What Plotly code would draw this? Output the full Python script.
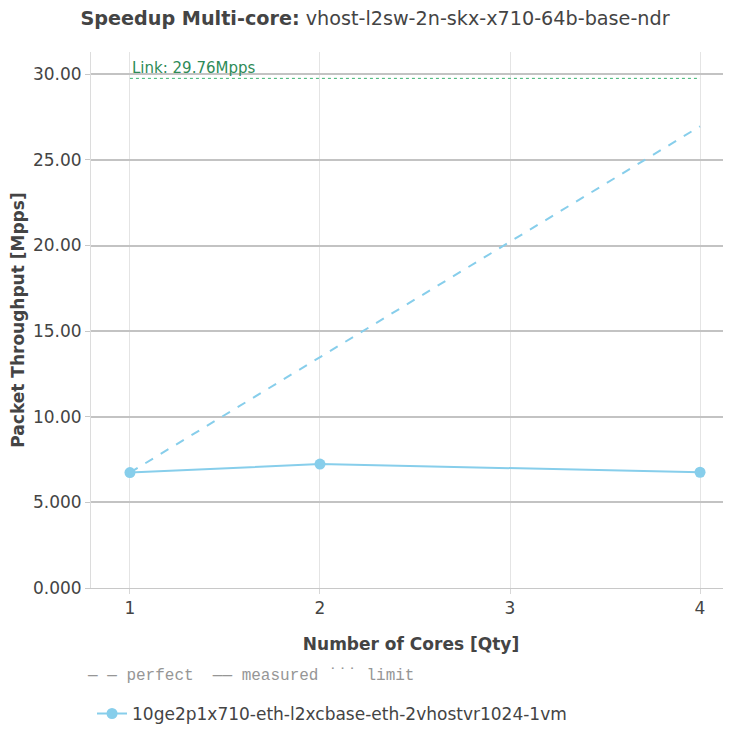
import plotly.graph_objects as go

cores = [1, 2, 4]
measured = [6.74, 7.24, 6.76]
perfect = [6.74, 13.48, 26.96]
link_x = [1, 4]
link_y = [29.76, 29.76]
series_name = "10ge2p1x710-eth-l2xcbase-eth-2vhostvr1024-1vm"
title_bold = "Speedup Multi-core:"
title_rest = "vhost-l2sw-2n-skx-x710-64b-base-ndr"

color = "rgb(135,206,235)"
font = "DejaVu Sans"

W, H = 723, 721

fig = go.Figure()
fig.add_trace(go.Scatter(x=cores, y=perfect, mode="lines", showlegend=False,
                         line=dict(color=color, dash="dash", width=2), hoverinfo="skip"))
fig.add_trace(go.Scatter(x=cores, y=measured, mode="lines+markers", name=series_name,
                         line=dict(color=color, width=2), marker=dict(size=11, color=color)))
fig.add_trace(go.Scatter(x=link_x, y=link_y, mode="lines", showlegend=False,
                         line=dict(color="rgb(60,179,113)", dash="dot", width=1)))

fig.add_annotation(x=1, y=29.76, text="Link: 29.76Mpps", showarrow=False, xanchor="left",
                   yanchor="bottom", xshift=0, yshift=-1,
                   font=dict(family=font, size=15, color="rgb(46,139,87)"))
fig.add_annotation(xref="paper", yref="paper", x=-0.009, y=-0.165, xanchor="left", yanchor="middle",
                   showarrow=False, text="— — perfect  —— measured ˙˙˙ limit",
                   font=dict(family="Liberation Mono, Courier New, monospace", size=16, color="rgb(150,150,150)"))

fig.update_layout(
    width=W, height=H,
    margin=dict(l=83, r=0, t=44, b=141, autoexpand=False),
    paper_bgcolor="white", plot_bgcolor="white",
    font=dict(family=font, size=17, color="rgb(68,68,68)"),
    title=dict(text=f"<b>{title_bold}</b> {title_rest}", x=367 / W, xanchor="center",
               y=1 - 10 / H, yanchor="middle", font=dict(size=19.2, family=font)),
    showlegend=True,
    legend=dict(orientation="h", x=0.0016, xanchor="left", y=-0.235, yanchor="middle",
                font=dict(size=17, family=font), bgcolor="rgba(0,0,0,0)"),
    xaxis=dict(title=dict(text="<b>Number of Cores [Qty]</b>", font=dict(size=17), standoff=20),
               range=[0.795, 4.163], tickvals=[1, 2, 3, 4], showgrid=True,
               gridcolor="rgb(228,228,228)", gridwidth=1, showline=True,
               linecolor="rgb(200,200,200)", linewidth=1, ticks="outside",
               tickcolor="rgb(215,215,215)", ticklen=5, zeroline=False),
    yaxis=dict(title=dict(text="<b>Packet Throughput [Mpps]</b>", font=dict(size=17)),
               range=[0, 31.3], tickvals=[0, 5, 10, 15, 20, 25, 30], tickformat=".4r",
               showgrid=True, gridcolor="rgb(195,195,195)", gridwidth=1.5,
               showline=True, linecolor="rgb(220,220,220)", linewidth=1,
               ticks="outside", tickcolor="rgb(200,200,200)", ticklen=5, zeroline=False),
)

fig.write_html("out.html")
